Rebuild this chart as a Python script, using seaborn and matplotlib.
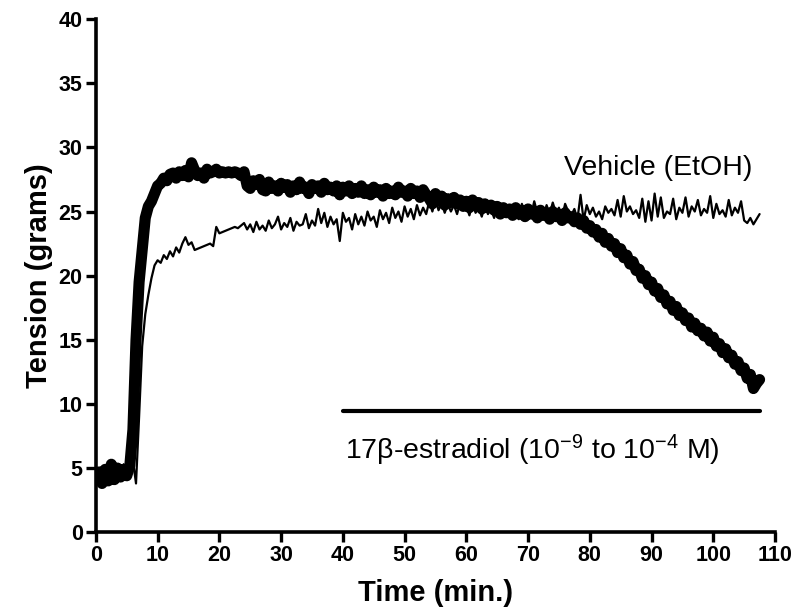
import matplotlib
matplotlib.use("Agg")
import matplotlib.pyplot as plt
import numpy as np
import pandas as pd
import seaborn as sns

# Tension traces, one sample every 0.5 min
vehicle = [
    4.3, 4.8, 4.0, 5.2, 4.2, 4.9, 4.1, 5.0, 4.4, 5.3,
    4.6, 5.5, 5.6, 3.8, 9.0, 14.5, 17.0, 18.5, 19.8, 20.8,
    21.2, 21.0, 21.6, 21.3, 21.9, 21.5, 22.2, 21.8, 22.5, 23.0,
    22.4, 22.6, 22.0, 22.1, 22.2, 22.3, 22.4, 22.5, 22.3, 23.8,
    23.3, 23.4, 23.5, 23.6, 23.7, 23.8, 23.7, 23.9, 24.1, 23.6,
    24.0, 23.4, 24.2, 23.6, 23.9, 23.5, 24.3, 23.7, 24.0, 24.6,
    23.6, 24.1, 23.8, 24.5, 23.5, 24.2, 23.9, 24.0, 24.8, 23.7,
    24.3, 23.9, 25.2, 24.1, 24.9, 23.8, 24.6, 24.0, 24.4, 22.7,
    24.9, 24.2, 24.5, 23.6, 24.8, 24.0, 24.6, 23.9, 25.0, 24.3,
    24.6, 23.8, 25.1, 24.4, 24.9, 24.1, 25.3, 24.5, 25.0, 24.2,
    25.4, 24.6, 25.2, 24.4, 25.5, 24.7, 25.3, 24.8, 25.8, 25.0,
    25.9, 25.1, 25.7, 24.9, 25.6, 25.0, 25.5, 24.8, 25.7, 25.1,
    25.4, 24.7, 25.6, 24.9, 25.3, 24.6, 25.5, 24.8, 25.2, 24.5,
    25.4, 24.7, 25.3, 24.6, 25.5, 24.9, 25.2, 24.4, 25.6, 24.8,
    25.3, 24.7, 25.8, 24.9, 25.4, 24.6, 25.5, 24.8, 25.7, 24.9,
    25.3, 24.5, 25.6, 25.0, 24.7, 25.2, 24.4, 26.3, 24.3, 25.5,
    24.8, 25.3, 24.6, 25.0, 24.4, 25.4, 24.9, 25.2, 24.7, 25.9,
    24.6, 26.2, 25.0, 25.4, 24.8, 25.1, 24.5, 26.0, 24.2, 25.8,
    24.3, 26.4, 24.6, 26.1, 24.5, 25.0, 24.8, 26.0, 24.4, 25.3,
    24.9, 26.1, 24.6, 25.4, 25.0, 25.9, 24.7, 25.2, 24.9, 26.2,
    24.5, 25.6, 24.8, 25.1, 24.6, 25.9, 24.7, 25.3, 24.9, 25.8,
    24.3, 24.1, 24.5, 24.0, 24.4, 24.8,
]

estradiol = [
    4.2, 4.7, 3.8, 4.9, 4.0, 5.3, 4.1, 5.0, 4.3, 4.9,
    4.4, 5.2, 8.0, 15.0, 19.5, 22.0, 24.5, 25.4, 25.8, 26.4,
    27.0, 27.2, 27.6, 27.4, 27.9, 28.0, 27.6, 28.1, 27.8, 28.2,
    27.7, 28.8, 28.2, 27.8, 28.0, 27.6, 28.3, 28.0, 28.1, 28.3,
    28.0, 28.1, 28.0, 28.1, 28.0, 28.1, 28.0, 27.8, 28.1, 27.0,
    26.8, 27.4, 27.1, 27.5, 26.7, 26.6, 27.3, 26.8, 27.0, 26.6,
    27.2, 26.9, 27.1, 26.5, 27.0, 26.7, 27.3, 26.8, 26.9, 26.4,
    27.1, 26.8, 27.0, 26.5, 27.2, 26.7, 26.9, 26.6, 27.0, 26.3,
    26.9, 26.6, 27.0, 26.4, 26.8, 26.5, 27.0, 26.4, 26.7, 26.3,
    26.9, 26.5, 26.7, 26.2, 26.8, 26.4, 26.6, 26.3, 26.9, 26.5,
    26.6, 26.2, 26.8, 26.4, 26.6, 26.1, 26.7, 26.3, 26.0, 25.6,
    26.4, 25.8, 26.2, 25.5, 26.0, 25.7, 26.1, 25.6, 25.9, 25.4,
    25.8, 25.3, 25.9, 25.5, 25.7, 25.2, 25.6, 25.3, 25.5, 25.1,
    25.4, 24.8, 25.3, 24.9, 25.2, 24.7, 25.3, 24.8, 25.1, 24.6,
    25.2, 24.8, 25.0, 24.5, 25.1, 24.7, 24.9, 24.4, 25.0, 24.6,
    24.8, 24.3, 24.9, 24.5, 24.6, 24.2, 24.5, 24.0, 24.3, 23.7,
    23.9, 23.4, 23.6, 23.0, 23.3, 22.6, 22.9, 22.3, 22.5, 21.8,
    22.1, 21.4, 21.6, 20.9, 21.1, 20.4, 20.5, 19.8, 20.0, 19.3,
    19.5, 18.8, 19.0, 18.3, 18.5, 17.8, 18.0, 17.3, 17.6, 16.9,
    17.1, 16.5, 16.7, 16.0, 16.3, 15.7, 15.9, 15.3, 15.6, 14.9,
    15.2, 14.5, 14.7, 14.0, 14.3, 13.6, 13.8, 13.1, 13.3, 12.6,
    12.8, 12.0, 12.3, 11.2, 11.6, 11.9,
]

sample_step = 0.5  # minutes between samples
treatment_start, treatment_end, treatment_level = 40, 107.6, 9.45

x_ticks = list(range(0, 111, 10))
y_ticks = list(range(0, 41, 5))

df = pd.DataFrame({
    "time": np.arange(len(vehicle)) * sample_step,
    "vehicle": vehicle,
    "estradiol": estradiol,
})

sns.set_style("ticks")
plt.rcParams["font.family"] = ["Liberation Sans", "DejaVu Sans"]
plt.rcParams["mathtext.fontset"] = "custom"
plt.rcParams["mathtext.rm"] = "Liberation Sans"
plt.rcParams["mathtext.default"] = "regular"
for key in ["text.color", "axes.labelcolor", "xtick.color", "ytick.color",
            "axes.edgecolor"]:
    plt.rcParams[key] = "black"

fig = plt.figure(figsize=(7.99, 6.16), dpi=100)
ax = fig.add_axes([0.120, 0.136, 0.850, 0.833])

sns.lineplot(data=df, x="time", y="vehicle", ax=ax, color="black", lw=1.6)
sns.lineplot(data=df, x="time", y="estradiol", ax=ax, color="black", lw=8,
             solid_joinstyle="round", solid_capstyle="round")

# treatment bar
ax.plot([treatment_start, treatment_end], [treatment_level, treatment_level],
        color="black", lw=3)

ax.text(75.8, 28.4, "Vehicle (EtOH)", fontsize=20.5, va="center", ha="left")
ax.text(40.3, 6.4, r"17β-estradiol (10$^{-9}$ to 10$^{-4}$ M)",
        fontsize=20.5, va="center", ha="left")

ax.set_xlim(0, 110)
ax.set_ylim(0, 40)
ax.set_xticks(x_ticks)
ax.set_yticks(y_ticks)
ax.set_xlabel("Time (min.)", fontsize=21, fontweight="bold", labelpad=9)
ax.set_ylabel("Tension (grams)", fontsize=21, fontweight="bold", labelpad=4)

for side in ["top", "right"]:
    ax.spines[side].set_visible(False)
for side in ["left", "bottom"]:
    ax.spines[side].set_linewidth(2.6)
ax.tick_params(axis="both", length=7.5, width=2.4, labelsize=15.5, pad=2)
for lab in ax.get_xticklabels() + ax.get_yticklabels():
    lab.set_fontweight("bold")

fig.savefig("out.png", dpi=100)
